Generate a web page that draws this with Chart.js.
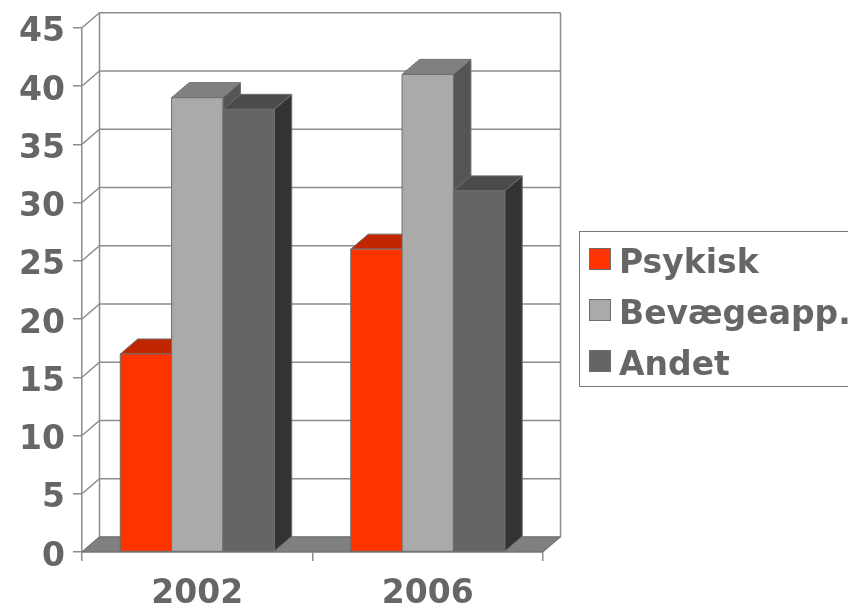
<!DOCTYPE html>
<html lang="da">
<head>
<meta charset="UTF-8">
<title>Psykisk / Bevægeapp. / Andet</title>
<script src="https://cdn.jsdelivr.net/npm/chart.js@4.4.0/dist/chart.umd.min.js"></script>
<style>
  html, body { margin: 0; padding: 0; background: #fff; }
  #wrap { width: 848px; height: 610px; }
</style>
</head>
<body>
<div id="wrap"><canvas id="chart"></canvas></div>
<script>
// data
const categories = ['2002', '2006'];
const seriesNames = ['Psykisk', 'Bevægeapp.', 'Andet'];
const psykisk = [17, 26];
const bevaegeapp = [39, 41];
const andet = [38, 31];
const yMin = 0, yMax = 45, yStep = 5;

// colours: front, top and side face of each series
const frontColors = ['#ff3300', '#aaaaaa', '#656565'];
const topColors = ['#c02600', '#808080', '#4b4b4b'];
const sideColors = ['#8f1d00', '#555555', '#333333'];

const DX = 17.5, DY = 15;   // depth of the 3d box
const textGrey = '#666666';
const lineGrey = '#8c8c8c';
const edgeGrey = '#6e6e6e';
const fontFam = 'DejaVu Sans';

function poly(ctx, pts, fill, stroke) {
    ctx.beginPath();
    ctx.moveTo(pts[0][0], pts[0][1]);
    for (let i = 1; i < pts.length; i++) ctx.lineTo(pts[i][0], pts[i][1]);
    ctx.closePath();
    ctx.fillStyle = fill;
    ctx.fill();
    ctx.strokeStyle = stroke;
    ctx.lineWidth = 1;
    ctx.stroke();
}

// walls, floor and the bars as boxes
const box3d = {
    id: 'box3d',
    beforeDatasetsDraw(chart) {
        const {ctx, chartArea, scales} = chart;
        const {left, right, top, bottom} = chartArea;
        ctx.save();
        ctx.strokeStyle = lineGrey;
        ctx.lineWidth = 1.5;
        scales.y.ticks.forEach(t => {
            const yy = scales.y.getPixelForValue(t.value);
            ctx.beginPath();
            ctx.moveTo(left, yy);
            ctx.lineTo(left + DX, yy - DY);
            ctx.lineTo(right + DX, yy - DY);
            ctx.stroke();
        });
        ctx.beginPath();
        ctx.moveTo(left + DX, top - DY);
        ctx.lineTo(left + DX, bottom - DY);
        ctx.moveTo(right + DX, top - DY);
        ctx.lineTo(right + DX, bottom - DY);
        ctx.stroke();

        poly(ctx, [[left, bottom], [right, bottom], [right + DX, bottom - DY], [left + DX, bottom - DY]], '#808080', edgeGrey);

        const n = chart.data.labels.length;
        for (let i = 0; i < n; i++) {
            chart.data.datasets.forEach((ds, d) => {
                const el = chart.getDatasetMeta(d).data[i];
                const x0 = el.x - el.width / 2, x1 = el.x + el.width / 2;
                const yt = el.y, yb = el.base;
                poly(ctx, [[x1, yt], [x1 + DX, yt - DY], [x1 + DX, yb - DY], [x1, yb]], sideColors[d], edgeGrey);
                poly(ctx, [[x0, yt], [x0 + DX, yt - DY], [x1 + DX, yt - DY], [x1, yt]], topColors[d], edgeGrey);
                poly(ctx, [[x0, yt], [x1, yt], [x1, yb], [x0, yb]], frontColors[d], edgeGrey);
            });
        }
        ctx.restore();
        return false;
    }
};

// boxed legend on the right
const boxLegend = {
    id: 'boxLegend',
    afterDraw(chart) {
        const ctx = chart.ctx;
        ctx.save();
        ctx.strokeStyle = '#777777';
        ctx.lineWidth = 1;
        ctx.strokeRect(579.5, 231.5, 300, 155);
        ctx.font = 'bold 33px ' + fontFam;
        ctx.textBaseline = 'alphabetic';
        ctx.textAlign = 'left';
        chart.data.datasets.forEach((ds, d) => {
            const y0 = 248 + d * 51;
            ctx.fillStyle = ds.backgroundColor;
            ctx.fillRect(589, y0, 22, 22);
            ctx.strokeStyle = edgeGrey;
            ctx.strokeRect(589.5, y0 + 0.5, 21, 21);
            ctx.fillStyle = textGrey;
            ctx.fillText(ds.label, 619, y0 + 25);
        });
        ctx.restore();
    }
};

const series = [psykisk, bevaegeapp, andet];

new Chart(document.getElementById('chart'), {
    type: 'bar',
    data: {
        labels: categories,
        datasets: series.map((vals, d) => ({
            label: seriesNames[d],
            data: vals,
            backgroundColor: frontColors[d],
            categoryPercentage: 0.668,
            barPercentage: 1.0
        }))
    },
    options: {
        responsive: true,
        maintainAspectRatio: false,
        animation: false,
        layout: { padding: { left: 0, right: 305, top: 26, bottom: 0 } },
        plugins: {
            legend: { display: false },
            tooltip: { enabled: false }
        },
        scales: {
            x: {
                grid: { drawOnChartArea: false, tickLength: 9, color: lineGrey, lineWidth: 1.5 },
                border: { color: lineGrey, width: 1.5 },
                ticks: { color: textGrey, padding: 14, font: { family: fontFam, size: 33, weight: 'bold' } },
                afterFit(scale) { scale.height = 58; }
            },
            y: {
                min: yMin,
                max: yMax,
                grid: { drawOnChartArea: false, tickLength: 9, color: lineGrey, lineWidth: 1.5 },
                border: { color: lineGrey, width: 1.5 },
                ticks: { stepSize: yStep, color: textGrey, padding: 8, labelOffset: 5, font: { family: fontFam, size: 33, weight: 'bold' } },
                afterFit(scale) { scale.width = 82; }
            }
        }
    },
    plugins: [box3d, boxLegend]
});
</script>
</body>
</html>
